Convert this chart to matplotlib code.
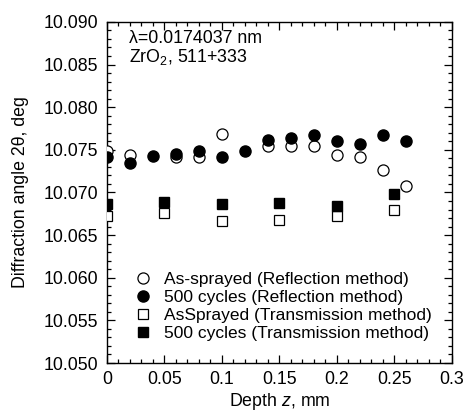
import matplotlib
matplotlib.use("Agg")
import matplotlib.pyplot as plt
from matplotlib.ticker import MultipleLocator

plt.rcParams['font.family'] = ['Liberation Sans', 'DejaVu Sans']
plt.rcParams['mathtext.fontset'] = 'custom'
plt.rcParams['mathtext.rm'] = 'Liberation Sans'
plt.rcParams['mathtext.it'] = 'Liberation Sans:italic'

# Reflection method depths and values
refl_depth = [0.0, 0.02, 0.04, 0.06, 0.08, 0.10, 0.12, 0.14, 0.16, 0.18, 0.20, 0.22, 0.24, 0.26]
as_sprayed_refl_depth = [0.0, 0.02, 0.06, 0.08, 0.10, 0.14, 0.16, 0.18, 0.20, 0.22, 0.24, 0.26]
as_sprayed_refl = [10.0749, 10.0744, 10.0741, 10.0742, 10.0768, 10.0754, 10.0754, 10.0755,
                   10.0744, 10.0741, 10.0726, 10.0707]
cycles_refl = [10.0741, 10.0735, 10.0743, 10.0745, 10.0749, 10.0741, 10.0749, 10.0762,
               10.0764, 10.0767, 10.0760, 10.0757, 10.0767, 10.0760]

# Transmission method
trans_depth = [0.0, 0.05, 0.10, 0.15, 0.20, 0.25]
as_sprayed_trans = [10.0672, 10.0676, 10.0667, 10.0668, 10.0672, 10.0680]
cycles_trans = [10.0687, 10.0689, 10.0687, 10.0688, 10.0684, 10.0698]

labels = ["As-sprayed (Reflection method)", "500 cycles (Reflection method)",
          "AsSprayed (Transmission method)", "500 cycles (Transmission method)"]

xticks = [0, 0.05, 0.1, 0.15, 0.2, 0.25, 0.3]
xticklabels = ["0", "0.05", "0.1", "0.15", "0.2", "0.25", "0.3"]
yticks = [10.050, 10.055, 10.060, 10.065, 10.070, 10.075, 10.080, 10.085, 10.090]

fig = plt.figure(figsize=(4.65, 4.13), dpi=100)
ax = fig.add_axes([0.230, 0.121, 0.742, 0.826])

ax.plot(as_sprayed_refl_depth, as_sprayed_refl, 'o', mfc='white', mec='black', mew=0.9,
        ms=8, ls='none', label=labels[0], zorder=3)
ax.plot(refl_depth, cycles_refl, 'o', mfc='black', mec='black', ms=8, ls='none',
        label=labels[1], zorder=4)
ax.plot(trans_depth, as_sprayed_trans, 's', mfc='white', mec='black', mew=0.9,
        ms=7, ls='none', label=labels[2], zorder=3)
ax.plot(trans_depth, cycles_trans, 's', mfc='black', mec='black', ms=7, ls='none',
        label=labels[3], zorder=4)

ax.set_xlim(0, 0.3)
ax.set_ylim(10.050, 10.090)
ax.set_xticks(xticks)
ax.set_xticklabels(xticklabels)
ax.set_yticks(yticks)
ax.set_yticklabels([f"{v:.3f}" for v in yticks])
ax.xaxis.set_minor_locator(MultipleLocator(0.01))
ax.yaxis.set_minor_locator(MultipleLocator(0.001))
ax.tick_params(which='both', direction='in', top=True, right=True, labelsize=12.8, width=0.9)
ax.tick_params(which='major', length=6, pad=6)
ax.tick_params(which='minor', length=3)
for s in ax.spines.values():
    s.set_linewidth(1.0)

ax.set_xlabel(r"Depth $\it{z}$, mm", fontsize=12.8, labelpad=2)
ax.set_ylabel("Diffraction angle 2θ, deg", fontsize=12.8, labelpad=11)

ax.text(0.063, 0.975, "λ=0.0174037 nm", transform=ax.transAxes, fontsize=12.8, va='top')
ax.text(0.063, 0.925, r"ZrO$_2$, 511+333", transform=ax.transAxes, fontsize=12.8, va='top')

leg = ax.legend(loc='lower left', bbox_to_anchor=(0.045, 0.025), frameon=False, fontsize=12.5,
                handlelength=0.8, handletextpad=0.8, labelspacing=0.15, borderpad=0.3,
                markerscale=1.0)

fig.savefig("out.png", dpi=100)
